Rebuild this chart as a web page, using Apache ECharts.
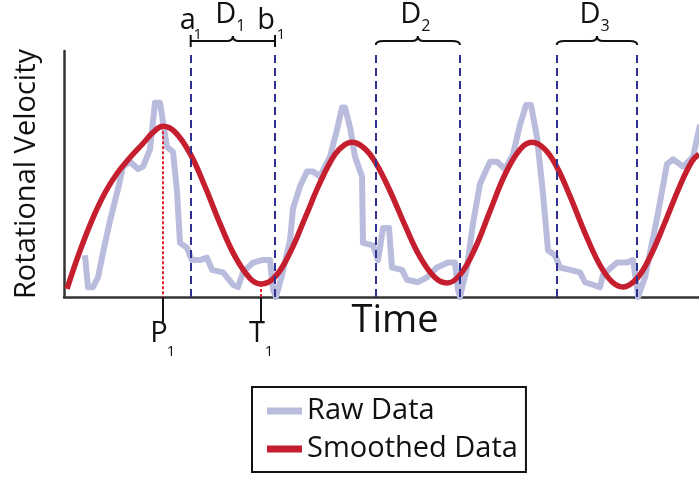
<!DOCTYPE html>
<html>
<head>
<meta charset="utf-8">
<script src="https://cdn.jsdelivr.net/npm/echarts@6/dist/echarts.min.js"></script>
<style>
html,body{margin:0;padding:0;background:#fff;}
#chart{width:699px;height:477px;}
</style>
</head>
<body>
<div id="chart"></div>
<script>
// ---- data ----
const rawTime = [0.21,0.24,0.29,0.34,0.39,0.46,0.54,0.59,0.66,0.74,0.79,0.86,0.91,0.96,1.03,1.09,1.13,1.16,1.23,1.28,
  1.36,1.43,1.48,1.59,1.69,1.74,1.79,1.89,1.98,2.06,2.09,2.12,2.18,2.26,2.29,2.36,2.43,2.49,2.56,2.66,
  2.73,2.78,2.81,2.86,2.91,2.98,2.99,3.09,3.14,3.19,3.25,3.28,3.38,3.43,3.54,3.63,3.73,3.84,3.91,3.94,
  3.96,4.03,4.09,4.16,4.26,4.33,4.41,4.49,4.56,4.62,4.67,4.73,4.79,4.84,4.91,4.96,5.06,5.16,5.21,5.36,
  5.39,5.53,5.63,5.69,5.73,5.74,5.81,5.93,6.03,6.09,6.19,6.29,6.36];
const rawVel = [17,4,4,8,18,31,44,53,55,52,53,60,79,79,61,59,43,22,20,15,
  15,16,11,10,5,4,10,14,15,15,3,0,9,23,36,45,51,51,49,57,
  68,77,77,69,57,49,22,21,15,28,28,12,11,7,6,8,12,14,14,3,
  0,12,30,46,55,55,52,58,70,78,78,65,42,19,17,12,11,10,6,4,
  9,14,14,15,4,0,8,32,54,56,53,57,70];

const smoothTime = [0.03,0.16,0.29,0.41,0.53,0.66,0.79,0.89,0.99,1.11,1.26,1.41,1.56,1.71,1.86,1.97,
  2.11,2.26,2.41,2.56,2.71,2.81,2.88,3.01,3.12,3.26,3.41,3.56,3.71,3.83,
  3.96,4.11,4.26,4.41,4.56,4.68,4.81,4.93,5.06,5.21,5.36,5.48,5.59,
  5.73,5.86,6.01,6.16,6.28,6.35];
const smoothVel = [3.3,18.8,32.2,42.4,50.2,56.7,62.4,66.9,69.4,67.1,58.4,44.9,29.8,16.5,7.6,5.3,
  8.2,18.0,32.1,46.5,58.0,62.0,62.9,60.2,54.3,43.1,29.1,16.3,7.9,5.7,
  9.0,19.7,34.9,49.8,60.0,62.9,60.0,52.7,41.0,26.0,12.9,6.2,4.1,
  7.6,16.3,30.4,45.3,55.2,58.0];

const windowStart = [1.267, 3.117, 4.927];   // a_i
const windowEnd   = [2.11, 3.96, 5.733];     // b_i
const windowSub   = ['1','2','3'];

const peakTime = 0.99, peakVel = 69.4;
const troughTime = 1.97, troughVel = 5.3;
const markerTimes = [peakTime, troughTime];
const markerLetters = ['P','T'];

const seriesNames = ['Raw Data','Smoothed Data'];
// --------------------------------------

const FONT = '"Open Sans"';
const INK = '#111';
const chart = echarts.init(document.getElementById('chart'), null, {renderer:'canvas'});

const rawData = rawTime.map((t,i)=>[t, rawVel[i]]);
const smoothData = smoothTime.map((t,i)=>[t, smoothVel[i]]);
const windowData = windowStart.map((t,i)=>[t, 100, windowEnd[i]]);
const markerData = markerTimes.map(t=>[t, 0]);

function txt(text, x, y, size, align){
  return {type:'text', style:{text:text, x:x, y:y, font: size+'px '+FONT, fill:INK, align:align||'center', verticalAlign:'middle'}};
}

function renderBrace(params, api){
  const L = api.coord([api.value(0), api.value(1)]);
  const R = api.coord([api.value(2), api.value(1)]);
  const top = L[1], x1 = L[0], x2 = R[0], m = (x1+x2)/2, yb = top-10;
  const i = params.dataIndex;
  let d;
  if (i === 0) {
    d = `M${x1},${yb-6}L${x1},${yb+6}M${x1},${yb}L${m-6},${yb}Q${m},${yb} ${m},${yb-5}Q${m},${yb} ${m+6},${yb}L${x2},${yb}M${x2},${yb-6}L${x2},${yb+6}`;
  } else {
    d = `M${x1},${yb+4}Q${x1},${yb} ${x1+8},${yb}L${m-6},${yb}Q${m},${yb} ${m},${yb-5}Q${m},${yb} ${m+6},${yb}L${x2-8},${yb}Q${x2},${yb} ${x2},${yb+4}`;
  }
  const children = [
    {type:'path', shape:{pathData:d}, style:{stroke:INK, lineWidth:2, fill:null}},
    txt('D', m-7, top-36, 29),
    txt(windowSub[i], m+8, top-25, 16)
  ];
  if (i === 0) {
    children.push(txt('a', x1-3, top-30, 29));
    children.push(txt(windowSub[i], x1+7, top-16, 15));
    children.push(txt('b', x2-9, top-30, 29));
    children.push(txt(windowSub[i], x2+6, top-16, 15));
  }
  return {type:'group', children};
}

function renderMarker(params, api){
  const p = api.coord([api.value(0), 0]);
  const letter = markerLetters[params.dataIndex];
  return {type:'group', children:[
    {type:'line', shape:{x1:p[0], y1:p[1], x2:p[0], y2:p[1]+25}, style:{stroke:INK, lineWidth:2}},
    txt(letter, p[0]-4, p[1]+37, 29),
    txt('1', p[0]+8, p[1]+55, 15)
  ]};
}

const option = {
  animation:false,
  backgroundColor:'#fff',
  grid:{left:64, right:0, top:51, bottom:180, outerBoundsMode:'none', containLabel:false},
  xAxis:{type:'value', min:0, max:6.35,
    axisLine:{show:true, lineStyle:{color:'#333', width:2.5}},
    axisTick:{show:false}, axisLabel:{show:false}, splitLine:{show:false}},
  yAxis:{type:'value', min:0, max:100,
    name:'Rotational Velocity', nameLocation:'middle', nameGap:23, nameRotate:90,
    nameTextStyle:{fontSize:29, fontFamily:'Open Sans', color:INK},
    axisLine:{show:true, lineStyle:{color:'#333', width:2.5}},
    axisTick:{show:false}, axisLabel:{show:false}, splitLine:{show:false}},
  legend:{orient:'vertical', left:252, top:387, itemWidth:35, itemHeight:7, itemGap:8, icon:'rect',
    padding:[9,8,8,15], borderColor:INK, borderWidth:2, backgroundColor:'#fff',
    textStyle:{fontSize:29, fontFamily:'Open Sans', color:INK, lineHeight:30},
    data:seriesNames},
  graphic:[
    {type:'text', x:395, y:321, style:{text:'Time', font:'38px '+FONT, fill:INK, align:'center', verticalAlign:'middle'}}
  ],
  series:[
    {name:seriesNames[0], type:'line', data:rawData, showSymbol:false, clip:false, z:1,
      lineStyle:{color:'#b9bcdc', width:6, join:'round'}, itemStyle:{color:'#b9bcdc'},
      markLine:{silent:true, symbol:'none', label:{show:false},
        lineStyle:{color:'#2e3192', type:[8,5], width:2},
        emphasis:{disabled:true},
        data:windowStart.concat(windowEnd).map(t=>({xAxis:t}))}},
    {name:seriesNames[1], type:'line', data:smoothData, showSymbol:false, smooth:0.4, clip:false, z:3,
      lineStyle:{color:'#c41e2f', width:5.5}, itemStyle:{color:'#c41e2f'},
      markLine:{silent:true, symbol:'none', label:{show:false},
        lineStyle:{color:'#e3222f', type:[3,2], width:2},
        emphasis:{disabled:true},
        data:[[{coord:[peakTime, peakVel]},{coord:[peakTime,0]}],
              [{coord:[troughTime, troughVel]},{coord:[troughTime,0]}]]}},
    {type:'custom', name:'windows', data:windowData, encode:{x:[0,2], y:1}, clip:false, silent:true, z:5,
      renderItem:renderBrace},
    {type:'custom', name:'markers', data:markerData, encode:{x:0, y:1}, clip:false, silent:true, z:5,
      renderItem:renderMarker}
  ]
};
chart.setOption(option);
</script>
</body>
</html>
